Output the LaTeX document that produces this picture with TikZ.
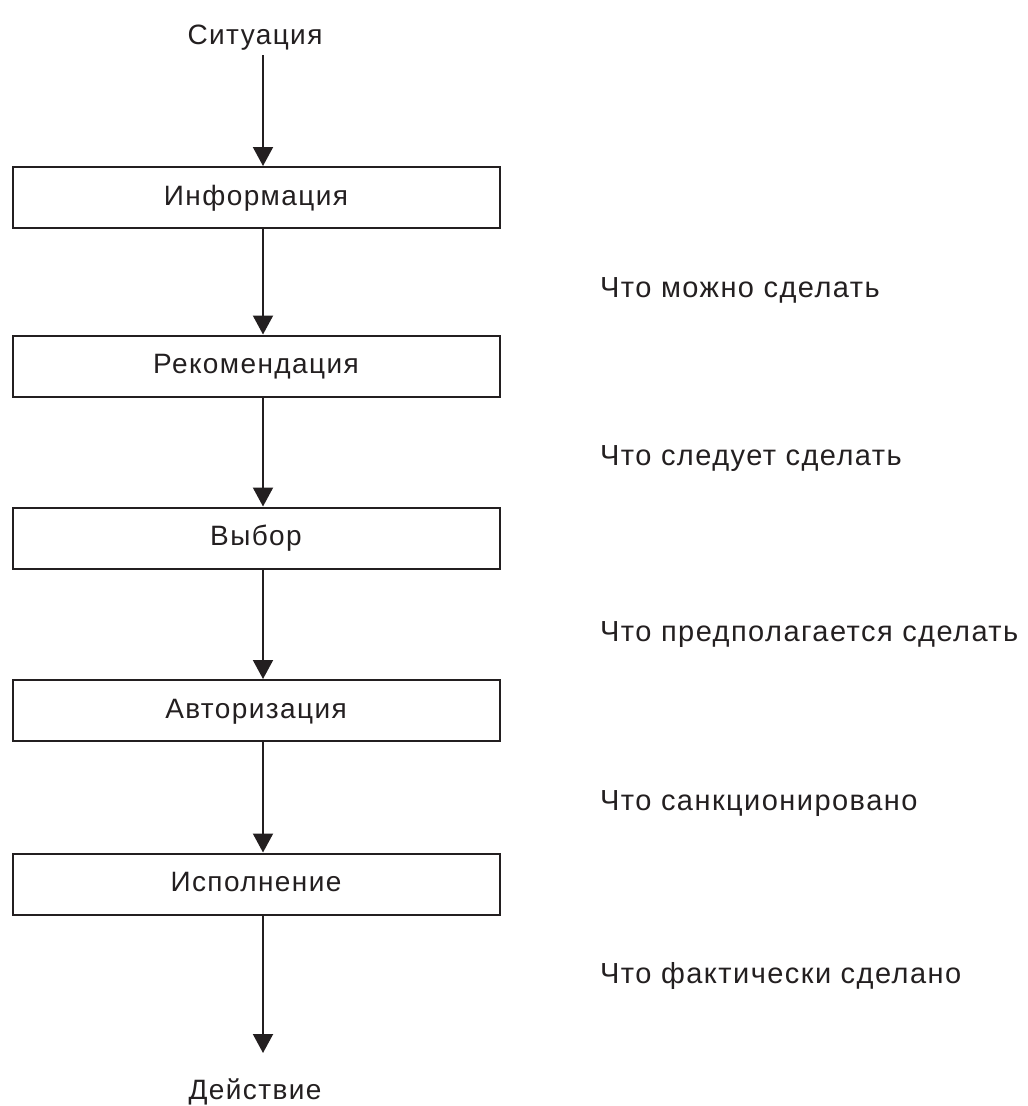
\documentclass[tikz,border=0pt]{standalone}
\usepackage{fontspec}
\setmainfont{Liberation Sans}
\newfontfamily\boxfont[LetterSpace=5]{Liberation Sans}
\usetikzlibrary{arrows.meta}
\definecolor{ink}{HTML}{231F20}
\newcommand{\fs}{\boxfont\fontsize{28}{32}\selectfont}
\newcommand{\fsr}{\boxfont\fontsize{29}{33}\selectfont}
\begin{document}
\begin{tikzpicture}[x=1pt,y=-1pt,
  stagebox/.style={draw=ink, line width=2pt, minimum width=487pt, minimum height=61pt,
    inner sep=0pt, font=\fs, text=ink, text height=20pt, text depth=5pt},
  sidelbl/.style={anchor=base west, font=\fsr, text=ink, inner sep=0pt},
  endlbl/.style={anchor=base, font=\fs, text=ink, inner sep=0pt},
  flow/.style={line width=2pt, draw=ink, -{Triangle[width=20pt,length=19pt]}}]
\useasboundingbox (0,0) rectangle (1028,1106);
\coordinate (ax) at (263,0);
\node[endlbl] (sit) at (255,44) {Ситуация};
\node[stagebox] (b1) at (256,197.5) {Информация};
\node[stagebox] (b2) at (256,366) {Рекомендация};
\node[stagebox] (b3) at (256,538) {Выбор};
\node[stagebox] (b4) at (256,710.5) {Авторизация};
\node[stagebox] (b5) at (256,884) {Исполнение};
\coordinate (tipend) at (263,1053);
\node[endlbl] (act) at (255,1099) {Действие};
\node[sidelbl] (l1) at (600,297) {Что можно сделать};
\node[sidelbl] (l2) at (600,465) {Что следует сделать};
\node[sidelbl] (l3) at (600,641) {Что предполагается сделать};
\node[sidelbl] (l4) at (600,810) {Что санкционировано};
\node[sidelbl] (l5) at (600,983) {Что фактически сделано};
\draw[flow, shorten <=5pt] (sit.south -| ax) -- (b1.north -| ax);
\draw[flow] (b1.south -| ax) -- (b2.north -| ax);
\draw[flow] (b2.south -| ax) -- (b3.north -| ax);
\draw[flow] (b3.south -| ax) -- (b4.north -| ax);
\draw[flow] (b4.south -| ax) -- (b5.north -| ax);
\draw[flow] (b5.south -| ax) -- (tipend);
\end{tikzpicture}
\end{document}
